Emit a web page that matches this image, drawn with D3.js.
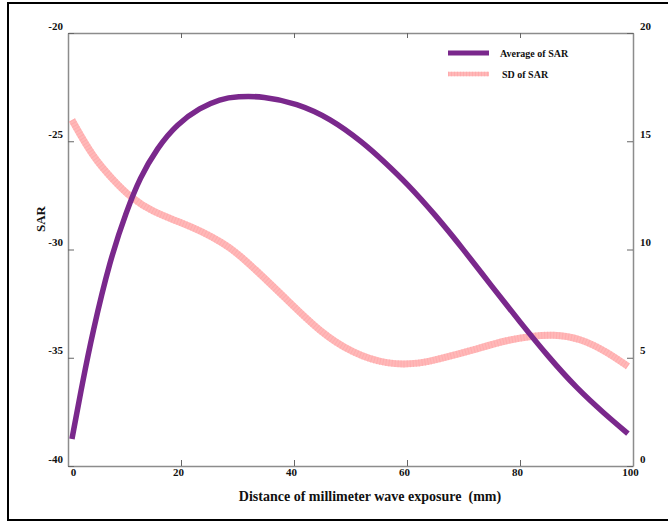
<!DOCTYPE html>
<html>
<head>
<meta charset="utf-8">
<script src="https://cdn.jsdelivr.net/npm/d3@7"></script>
<style>
  body { margin: 0; background: #fff; }
  svg text { font-family: "Liberation Serif", "DejaVu Serif", serif; font-weight: bold; fill: #111; }
</style>
</head>
<body>
<svg id="chart" width="668" height="523"></svg>
<script>
// values
const avgX = [0.7, 2.6, 4.3, 7.4, 10.4, 12.7, 15.8, 19.3, 23.4, 26.9, 30, 34.5, 40.5, 46.4, 52.2, 56, 60, 65, 70, 75, 80, 85, 90, 95, 99.1];
const avgSAR = [-38.75, -36.1, -33.9, -30.5, -28.2, -26.7, -25.3, -24.2, -23.45, -23.05, -22.93, -22.92, -23.24, -23.94, -25.05, -25.95, -26.95, -28.4, -30.0, -31.7, -33.35, -34.95, -36.4, -37.6, -38.5];

const sdX = [0.7, 4.4, 8.0, 11.0, 15.0, 19.8, 23.9, 27.4, 29.9, 32.7, 38.8, 44.6, 50.4, 56.5, 62.3, 65.8, 71.7, 77.7, 82.1, 85.8, 90.6, 95.4, 99.1];
const sdSAR = [15.98, 14.27, 13.21, 12.42, 11.73, 11.27, 10.81, 10.3, 9.84, 9.19, 7.67, 6.19, 5.2, 4.68, 4.72, 4.95, 5.36, 5.82, 6.0, 6.08, 5.91, 5.27, 4.6];

const xTicks = [0, 20, 40, 60, 80, 100];
const leftTicks = [-40, -35, -30, -25, -20];
const rightTicks = [0, 5, 10, 15, 20];

const margin = { top: 33, right: 35, bottom: 57, left: 68 };
const width = 668 - margin.left - margin.right;
const height = 523 - margin.top - margin.bottom;

const root = d3.select("#chart");

// outer black frame (its right side runs off the picture)
root.append("rect")
  .attr("x", 8).attr("y", 3)
  .attr("width", 700).attr("height", 517)
  .attr("fill", "none")
  .attr("stroke", "#000")
  .attr("stroke-width", 2);

const svg = root.append("g")
  .attr("transform", `translate(${margin.left},${margin.top})`);

const x = d3.scaleLinear().domain([0, 100]).range([0, width]);
const yL = d3.scaleLinear().domain([-40, -20]).range([height, 0]);
const yR = d3.scaleLinear().domain([0, 20]).range([height, 0]);

const axisColor = "#8c8c8c";
const fmt = d => String(d);

function styleAxis(g) {
  g.select(".domain").attr("stroke", axisColor).attr("stroke-width", 1.5);
  g.selectAll(".tick line").attr("stroke", "#666").attr("stroke-width", 1);
  g.selectAll(".tick text").attr("font-size", 11).attr("fill", "#111");
}

svg.append("g")
  .attr("transform", `translate(0,${height})`)
  .call(d3.axisBottom(x).tickValues(xTicks).tickFormat(fmt).tickSize(-6).tickSizeOuter(0).tickPadding(2))
  .call(styleAxis)
  .call(g => g.selectAll(".tick text").attr("dx", d => d === 0 ? 5 : -3));

svg.append("g")
  .call(d3.axisTop(x).tickValues(xTicks).tickSize(-5).tickSizeOuter(0).tickFormat(""))
  .call(styleAxis);

svg.append("g")
  .call(d3.axisLeft(yL).tickValues(leftTicks).tickFormat(fmt).tickSize(-6).tickSizeOuter(0).tickPadding(5))
  .call(styleAxis)
  .call(g => g.selectAll(".tick text").attr("dy", "-4px"));

svg.append("g")
  .attr("transform", `translate(${width},0)`)
  .call(d3.axisRight(yR).tickValues(rightTicks).tickFormat(fmt).tickSize(-6).tickSizeOuter(0).tickPadding(7))
  .call(styleAxis)
  .call(g => g.selectAll(".tick text").attr("dy", "-4px"));

// titles
svg.append("text")
  .attr("text-anchor", "middle")
  .attr("x", 302)
  .attr("y", height + 35)
  .attr("font-size", 14)
  .text("Distance of millimeter wave exposure\u00a0\u00a0(mm)");

svg.append("text")
  .attr("text-anchor", "middle")
  .attr("transform", "rotate(-90)")
  .attr("x", -186)
  .attr("y", -23)
  .attr("font-size", 13)
  .text("SAR");

const avgData = avgX.map((d, i) => ({ x: d, v: avgSAR[i] }));
const sdData = sdX.map((d, i) => ({ x: d, v: sdSAR[i] }));

const lineL = d3.line().x(d => x(d.x)).y(d => yL(d.v)).curve(d3.curveBasis);
const lineR = d3.line().x(d => x(d.x)).y(d => yR(d.v)).curve(d3.curveBasis);

// SD line: light pink with a fine hatch texture
svg.append("path")
  .attr("d", lineR(sdData))
  .attr("fill", "none")
  .attr("stroke", "#ffb8b8")
  .attr("stroke-width", 7);
svg.append("path")
  .attr("d", lineR(sdData))
  .attr("fill", "none")
  .attr("stroke", "#ffa4a6")
  .attr("stroke-width", 7)
  .attr("stroke-dasharray", "1,2")
  .attr("opacity", 0.6);

svg.append("path")
  .attr("d", lineL(avgData))
  .attr("fill", "none")
  .attr("stroke", "#7a288c")
  .attr("stroke-width", 5.5);

// legend
const legend = root.append("g");
legend.append("line")
  .attr("x1", 448).attr("x2", 489).attr("y1", 53).attr("y2", 53)
  .attr("stroke", "#7a288c").attr("stroke-width", 5);
legend.append("text")
  .attr("x", 500).attr("y", 56.5).attr("font-size", 10)
  .text("Average of SAR");
legend.append("line")
  .attr("x1", 448).attr("x2", 489).attr("y1", 74).attr("y2", 74)
  .attr("stroke", "#ffb8b8").attr("stroke-width", 4.5);
legend.append("line")
  .attr("x1", 448).attr("x2", 489).attr("y1", 74).attr("y2", 74)
  .attr("stroke", "#ffa4a6").attr("stroke-width", 4.5)
  .attr("stroke-dasharray", "1,2").attr("opacity", 0.6);
legend.append("text")
  .attr("x", 502).attr("y", 77.5).attr("font-size", 10)
  .text("SD of SAR");
</script>
</body>
</html>
